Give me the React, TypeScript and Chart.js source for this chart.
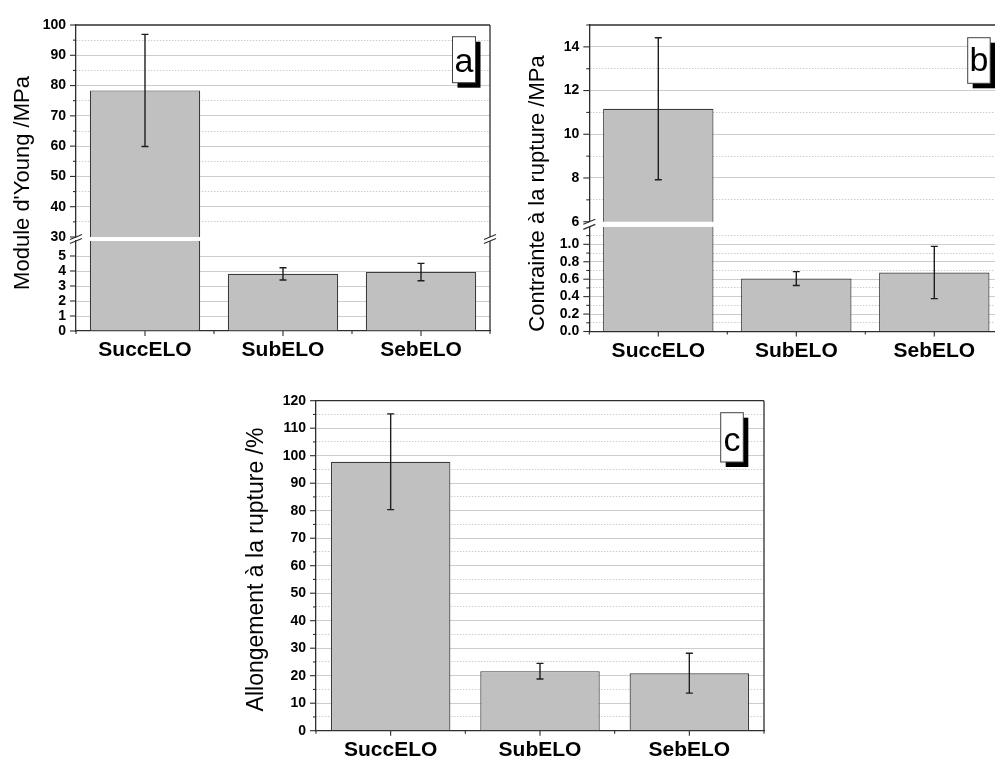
import React, { useEffect, useRef } from 'react';
import { Chart, registerables } from 'chart.js';

Chart.register(...registerables);

// ---------- data ----------
const categories = ['SuccELO', 'SubELO', 'SebELO'];

const youngModulus = [78.4, 3.81, 3.93];
const youngModulusError = [18.5, 0.41, 0.58];

const breakStress = [11.17, 0.607, 0.677];
const breakStressError = [3.25, 0.08, 0.3];

const elongation = [97.8, 21.65, 20.9];
const elongationError = [17.4, 2.85, 7.25];

// y-axis segments: [min, max, minor step, major step]
const youngUpperAxis = [30, 100, 5, 10];
const youngLowerAxis = [0, 6, 1, 1];
const stressUpperAxis = [6, 15, 1, 2];
const stressLowerAxis = [0, 1.2, 0.1, 0.2];
const elongationAxis = [0, 120, 5, 10];

const yTitles = ["Module d'Young /MPa", 'Contrainte à la rupture /MPa', 'Allongement à la rupture /%'];
const panelLetters = ['a', 'b', 'c'];

// ---------- layout / style ----------
const FONT = "'Liberation Sans', Arial, Helvetica, sans-serif";
const CW = 1010;
const CH = 763;
const XH = 30;
const AXIS = '#2e2e2e';

interface Seg {
  values: number[];
  errors: number[];
  axis: number[];
  decimals: number;
  left: number;
  right: number;
  top: number;
  bottom: number;
  showX: boolean;
  frameTop: boolean;
  hideMaxLabel: boolean;
  title?: { text: string; x: number; y: number; size: number };
  letter?: { text: string; x: number; y: number; w: number; h: number; base: number };
  breakAt?: { xs: number[]; gapTop: number };
}

const segments: Seg[] = [
  {
    values: youngModulus, errors: youngModulusError, axis: youngUpperAxis, decimals: 0,
    left: 76, right: 490, top: 25, bottom: 237, showX: false, frameTop: true, hideMaxLabel: false,
    letter: { text: panelLetters[0], x: 452.5, y: 36.7, w: 23, h: 46, base: 35 },
  },
  {
    values: youngModulus, errors: youngModulusError, axis: youngLowerAxis, decimals: 0,
    left: 76, right: 490, top: 241, bottom: 331, showX: true, frameTop: false, hideMaxLabel: true,
    title: { text: yTitles[0], x: 29, y: 183, size: 22 },
    breakAt: { xs: [76, 490], gapTop: 237 },
  },
  {
    values: breakStress, errors: breakStressError, axis: stressUpperAxis, decimals: 0,
    left: 589.3, right: 1003.3, top: 25, bottom: 221.7, showX: false, frameTop: true, hideMaxLabel: false,
    letter: { text: panelLetters[1], x: 967.7, y: 37.7, w: 22.5, h: 45.6, base: 33.5 },
  },
  {
    values: breakStress, errors: breakStressError, axis: stressLowerAxis, decimals: 1,
    left: 589.3, right: 1003.3, top: 226.9, bottom: 331.5, showX: true, frameTop: false, hideMaxLabel: true,
    title: { text: yTitles[1], x: 543.5, y: 193.5, size: 22 },
    breakAt: { xs: [589.3], gapTop: 221.7 },
  },
  {
    values: elongation, errors: elongationError, axis: elongationAxis, decimals: 0,
    left: 316, right: 764, top: 400.7, bottom: 730.7, showX: true, frameTop: true, hideMaxLabel: false,
    title: { text: yTitles[2], x: 263, y: 569.5, size: 23 },
    letter: { text: panelLetters[2], x: 720.7, y: 412.7, w: 22.6, h: 49.3, base: 38 },
  },
];

const near = (a: number, b: number) => Math.abs(a - b) < 1e-6;

function makeChart(canvas: HTMLCanvasElement, seg: Seg) {
  const [min, max, minor, major] = seg.axis;
  const isMajor = (v: number) => Math.abs(v / major - Math.round(v / major)) < 1e-6;
  const xh = seg.showX ? XH : 0;

  const line = (ctx: CanvasRenderingContext2D, x1: number, y1: number, x2: number, y2: number) => {
    ctx.beginPath();
    ctx.moveTo(x1, y1);
    ctx.lineTo(x2, y2);
    ctx.stroke();
  };

  const deco = {
    id: 'deco',
    afterDatasetsDraw(chart: any) {
      const { ctx, chartArea: ca } = chart;
      const ys = chart.scales.y;
      const meta = chart.getDatasetMeta(0);
      ctx.save();
      ctx.beginPath();
      ctx.rect(ca.left, ca.top, ca.right - ca.left, ca.bottom - ca.top);
      ctx.clip();
      ctx.strokeStyle = '#1e1e1e';
      ctx.lineWidth = 1.4;
      meta.data.forEach((bar: any, i: number) => {
        const v = seg.values[i];
        const e = seg.errors[i];
        const x = bar.x;
        const yt = ys.getPixelForValue(v + e);
        const yb = ys.getPixelForValue(v - e);
        ctx.beginPath();
        ctx.moveTo(x, yt);
        ctx.lineTo(x, yb);
        ctx.moveTo(x - 3.5, yt);
        ctx.lineTo(x + 3.5, yt);
        ctx.moveTo(x - 3.5, yb);
        ctx.lineTo(x + 3.5, yb);
        ctx.stroke();
      });
      ctx.restore();
    },
    afterDraw(chart: any) {
      const { ctx, chartArea: ca } = chart;
      ctx.save();
      ctx.strokeStyle = AXIS;
      ctx.lineWidth = 1.3;
      // frame
      line(ctx, ca.right, ca.bottom, ca.right, ca.top);
      if (seg.frameTop) line(ctx, ca.left, ca.top, ca.right, ca.top);
      // y ticks
      const ys = chart.scales.y;
      ctx.lineWidth = 1.1;
      ys.ticks.forEach((t: any) => {
        if (seg.hideMaxLabel && near(t.value, max)) return;
        const py = ys.getPixelForValue(t.value);
        const len = isMajor(t.value) ? 6 : 3;
        line(ctx, ca.left - len, py, ca.left, py);
      });
      // x ticks
      if (seg.showX) {
        const xs = chart.scales.x;
        for (let i = 0; i < categories.length; i++) {
          const px = xs.getPixelForValue(i);
          line(ctx, px, ca.bottom, px, ca.bottom + 5);
        }
        for (let i = 0; i <= categories.length; i++) {
          const px = xs.getPixelForValue(i - 0.5);
          line(ctx, px, ca.bottom, px, ca.bottom + 3);
        }
      }
      // break marks
      if (seg.breakAt) {
        ctx.lineWidth = 1.2;
        const gapTop = seg.breakAt.gapTop;
        seg.breakAt.xs.forEach((ax) => {
          [gapTop, ca.top].forEach((yy) => line(ctx, ax - 6, yy + 2.5, ax + 6, yy - 2.5));
        });
      }
      // panel letter
      if (seg.letter) {
        const { x, y, w, h, text, base } = seg.letter;
        ctx.fillStyle = '#000';
        ctx.fillRect(x + 5, y + 5, w, h);
        ctx.fillStyle = '#fff';
        ctx.fillRect(x, y, w, h);
        ctx.strokeStyle = '#444';
        ctx.lineWidth = 1;
        ctx.strokeRect(x, y, w, h);
        ctx.fillStyle = '#000';
        ctx.font = `34px ${FONT}`;
        ctx.textAlign = 'center';
        ctx.textBaseline = 'alphabetic';
        ctx.fillText(text, x + w / 2, y + base);
      }
      // y title
      if (seg.title) {
        const { text, x, y, size } = seg.title;
        ctx.save();
        ctx.translate(x, y);
        ctx.rotate(-Math.PI / 2);
        ctx.font = `${size}px ${FONT}`;
        ctx.fillStyle = '#000';
        ctx.textAlign = 'center';
        ctx.textBaseline = 'alphabetic';
        ctx.fillText(text, 0, 0);
        ctx.restore();
      }
      ctx.restore();
    },
  };

  return new Chart(canvas, {
    type: 'bar',
    data: {
      labels: categories,
      datasets: [
        {
          data: seg.values,
          backgroundColor: '#c0c0c0',
          borderColor: '#3c3c3c',
          borderWidth: 1.2,
          barPercentage: 0.8,
          categoryPercentage: 1,
        },
      ],
    },
    options: {
      animation: false,
      responsive: false,
      maintainAspectRatio: false,
      events: [],
      layout: {
        autoPadding: false,
        padding: { left: 0, top: seg.top, right: CW - seg.right, bottom: CH - seg.bottom - xh },
      },
      plugins: { legend: { display: false }, tooltip: { enabled: false }, title: { display: false } },
      scales: {
        x: {
          display: seg.showX,
          offset: true,
          grid: { display: false, drawTicks: false },
          border: { display: true, color: AXIS, width: 1.3 },
          ticks: {
            font: { family: FONT, size: 21, weight: 'bold' },
            color: '#000',
            padding: 7,
            maxRotation: 0,
            autoSkip: false,
          },
          afterFit: (s: any) => {
            s.height = xh;
          },
        },
        y: {
          min,
          max,
          afterBuildTicks: (s: any) => {
            const ticks: any[] = [];
            const n = Math.round((max - min) / minor);
            for (let k = 0; k <= n; k++) {
              ticks.push({ value: Math.round((min + k * minor) * 1e6) / 1e6 });
            }
            s.ticks = ticks;
          },
          afterFit: (s: any) => {
            s.width = seg.left;
          },
          ticks: {
            autoSkip: false,
            padding: 10,
            color: '#000',
            font: { family: FONT, size: 14, weight: 'bold' },
            callback: (value: any) => {
              const v = Number(value);
              if (!isMajor(v)) return '';
              if (seg.hideMaxLabel && near(v, max)) return '';
              return v.toFixed(seg.decimals);
            },
          },
          grid: {
            drawTicks: false,
            lineWidth: 1,
            color: (ctx: any) => {
              const t = ctx.tick;
              if (!t) return '#cdcdcd';
              if (near(t.value, min) || near(t.value, max)) return 'rgba(0,0,0,0)';
              return isMajor(t.value) ? '#cdcdcd' : '#b5b5b5';
            },
          },
          border: {
            display: true,
            color: AXIS,
            width: 1.3,
            dash: (ctx: any) => {
              const t = ctx.tick;
              if (!t) return [];
              return isMajor(t.value) ? [] : [1, 2];
            },
          },
        },
      },
    } as any,
    plugins: [deco],
  });
}

export default function App() {
  const refs = useRef<(HTMLCanvasElement | null)[]>([]);

  useEffect(() => {
    const charts = segments.map((seg, i) => makeChart(refs.current[i] as HTMLCanvasElement, seg));
    return () => charts.forEach((c) => c.destroy());
  }, []);

  return (
    <div
      style={{
        position: 'fixed',
        left: 0,
        top: 0,
        width: 995,
        height: 763,
        overflow: 'hidden',
        background: '#fff',
      }}
    >
      {segments.map((_, i) => (
        <canvas
          key={i}
          ref={(el) => {
            refs.current[i] = el;
          }}
          width={CW}
          height={CH}
          style={{ position: 'absolute', left: 0, top: 0, width: CW, height: CH }}
        />
      ))}
    </div>
  );
}
